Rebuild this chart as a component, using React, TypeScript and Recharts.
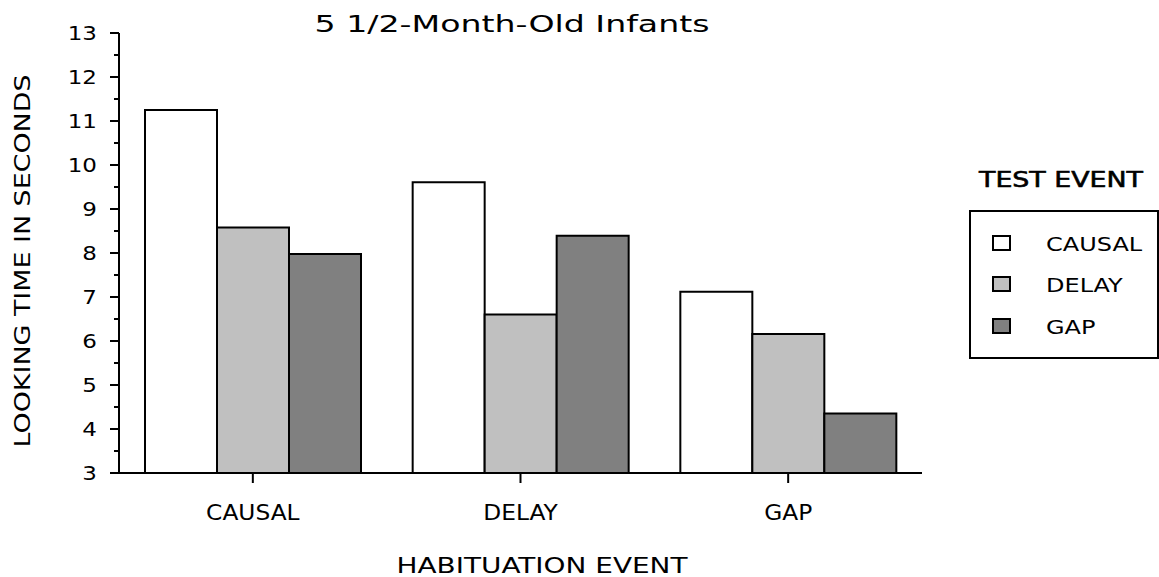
import { BarChart, Bar, XAxis, YAxis, Legend } from 'recharts'

document.body.style.margin = '0'

const categories = ['CAUSAL', 'DELAY', 'GAP']
const causal = [11.25, 9.61, 7.12]
const delay = [8.58, 6.6, 6.16]
const gap = [7.98, 8.39, 4.35]
const yTicks = [3, 3.5, 4, 4.5, 5, 5.5, 6, 6.5, 7, 7.5, 8, 8.5, 9, 9.5, 10, 10.5, 11, 11.5, 12, 12.5, 13]

const rows = categories.map((c, i) => ({ name: c, causal: causal[i], delay: delay[i], gap: gap[i] }))

const FONT = '"DejaVu Sans", Verdana, sans-serif'
const COLORS = { causal: '#ffffff', delay: '#c0c0c0', gap: '#808080' }

// the source picture is stretched sideways, so text gets squeezed/stretched to fit
function YTick(props: any) {
  const { x, y, payload } = props
  const v = payload.value as number
  const major = Number.isInteger(v)
  return (
    <g>
      <line x1={x - (major ? 9 : 5)} x2={x} y1={y} y2={y} stroke="#000" strokeWidth={2} />
      {major && (
        <text transform={`translate(${x - 22},${y + 7}) scale(1.15,1)`} textAnchor="end" fontSize={20} fontFamily={FONT} fill="#000">
          {v}
        </text>
      )}
    </g>
  )
}

function XTick(props: any) {
  const { x, y, payload } = props
  return (
    <g>
      <line x1={x} x2={x} y1={y} y2={y + 10} stroke="#000" strokeWidth={2} />
      <text transform={`translate(${x},${y + 47}) scale(1.06,1)`} textAnchor="middle" fontSize={22} fontFamily={FONT} fill="#000">
        {payload.value}
      </text>
    </g>
  )
}

function LegendBox(props: any) {
  const items = props.payload || []
  const rowY = [93, 134, 176]
  return (
    <svg width={199} height={215} style={{ display: 'block' }}>
      <text x={101} y={37} textAnchor="middle" fontSize={22} fontFamily={FONT} stroke="#000" strokeWidth={0.6} textLength={164} lengthAdjust="spacingAndGlyphs">
        TEST EVENT
      </text>
      <rect x={10} y={61} width={188} height={147} fill="#fff" stroke="#000" strokeWidth={2} />
      {items.map((it: any, i: number) => (
        <g key={it.value}>
          <rect x={33} y={rowY[i] - 7} width={17} height={14} fill={it.color} stroke="#000" strokeWidth={2} />
          <text transform={`translate(86,${rowY[i] + 8}) scale(1.2,1)`} fontSize={20} fontFamily={FONT} fill="#000">
            {it.value}
          </text>
        </g>
      ))}
    </svg>
  )
}

export default function App() {
  return (
    <div style={{ position: 'relative', width: 1159, height: 577, background: '#fff' }}>
      <BarChart
        width={1159}
        height={577}
        data={rows}
        margin={{ top: 33, right: 237, bottom: 44, left: 59 }}
        barCategoryGap={26}
        barGap={0}
      >
        <XAxis
          dataKey="name"
          height={60}
          axisLine={{ stroke: '#000', strokeWidth: 2 }}
          tickLine={false}
          tickSize={0}
          tickMargin={0}
          tick={<XTick />}
          interval={0}
        />
        <YAxis
          type="number"
          domain={[3, 13]}
          ticks={yTicks}
          width={60}
          interval={0}
          axisLine={{ stroke: '#000', strokeWidth: 2 }}
          tickLine={false}
          tickSize={0}
          tickMargin={0}
          tick={<YTick />}
        />
        <Legend
          layout="vertical"
          align="center"
          verticalAlign="middle"
          wrapperStyle={{ position: 'absolute', left: 960, top: 150, width: 199, height: 215 }}
          content={<LegendBox />}
        />
        <Bar dataKey="causal" name="CAUSAL" fill={COLORS.causal} stroke="#000" strokeWidth={2} isAnimationActive={false} />
        <Bar dataKey="delay" name="DELAY" fill={COLORS.delay} stroke="#000" strokeWidth={2} isAnimationActive={false} />
        <Bar dataKey="gap" name="GAP" fill={COLORS.gap} stroke="#000" strokeWidth={2} isAnimationActive={false} />
      </BarChart>
      <svg width={1159} height={577} style={{ position: 'absolute', left: 0, top: 0, pointerEvents: 'none' }}>
        <text x={512} y={32} textAnchor="middle" fontSize={23} fontFamily={FONT} textLength={395} lengthAdjust="spacingAndGlyphs">
          5 1/2-Month-Old Infants
        </text>
        <text transform="translate(30,261) rotate(-90)" textAnchor="middle" fontSize={22} fontFamily={FONT} textLength={373} lengthAdjust="spacingAndGlyphs">
          LOOKING TIME IN  SECONDS
        </text>
        <text x={542} y={573} textAnchor="middle" fontSize={22} fontFamily={FONT} textLength={291} lengthAdjust="spacingAndGlyphs">
          HABITUATION  EVENT
        </text>
      </svg>
    </div>
  )
}
